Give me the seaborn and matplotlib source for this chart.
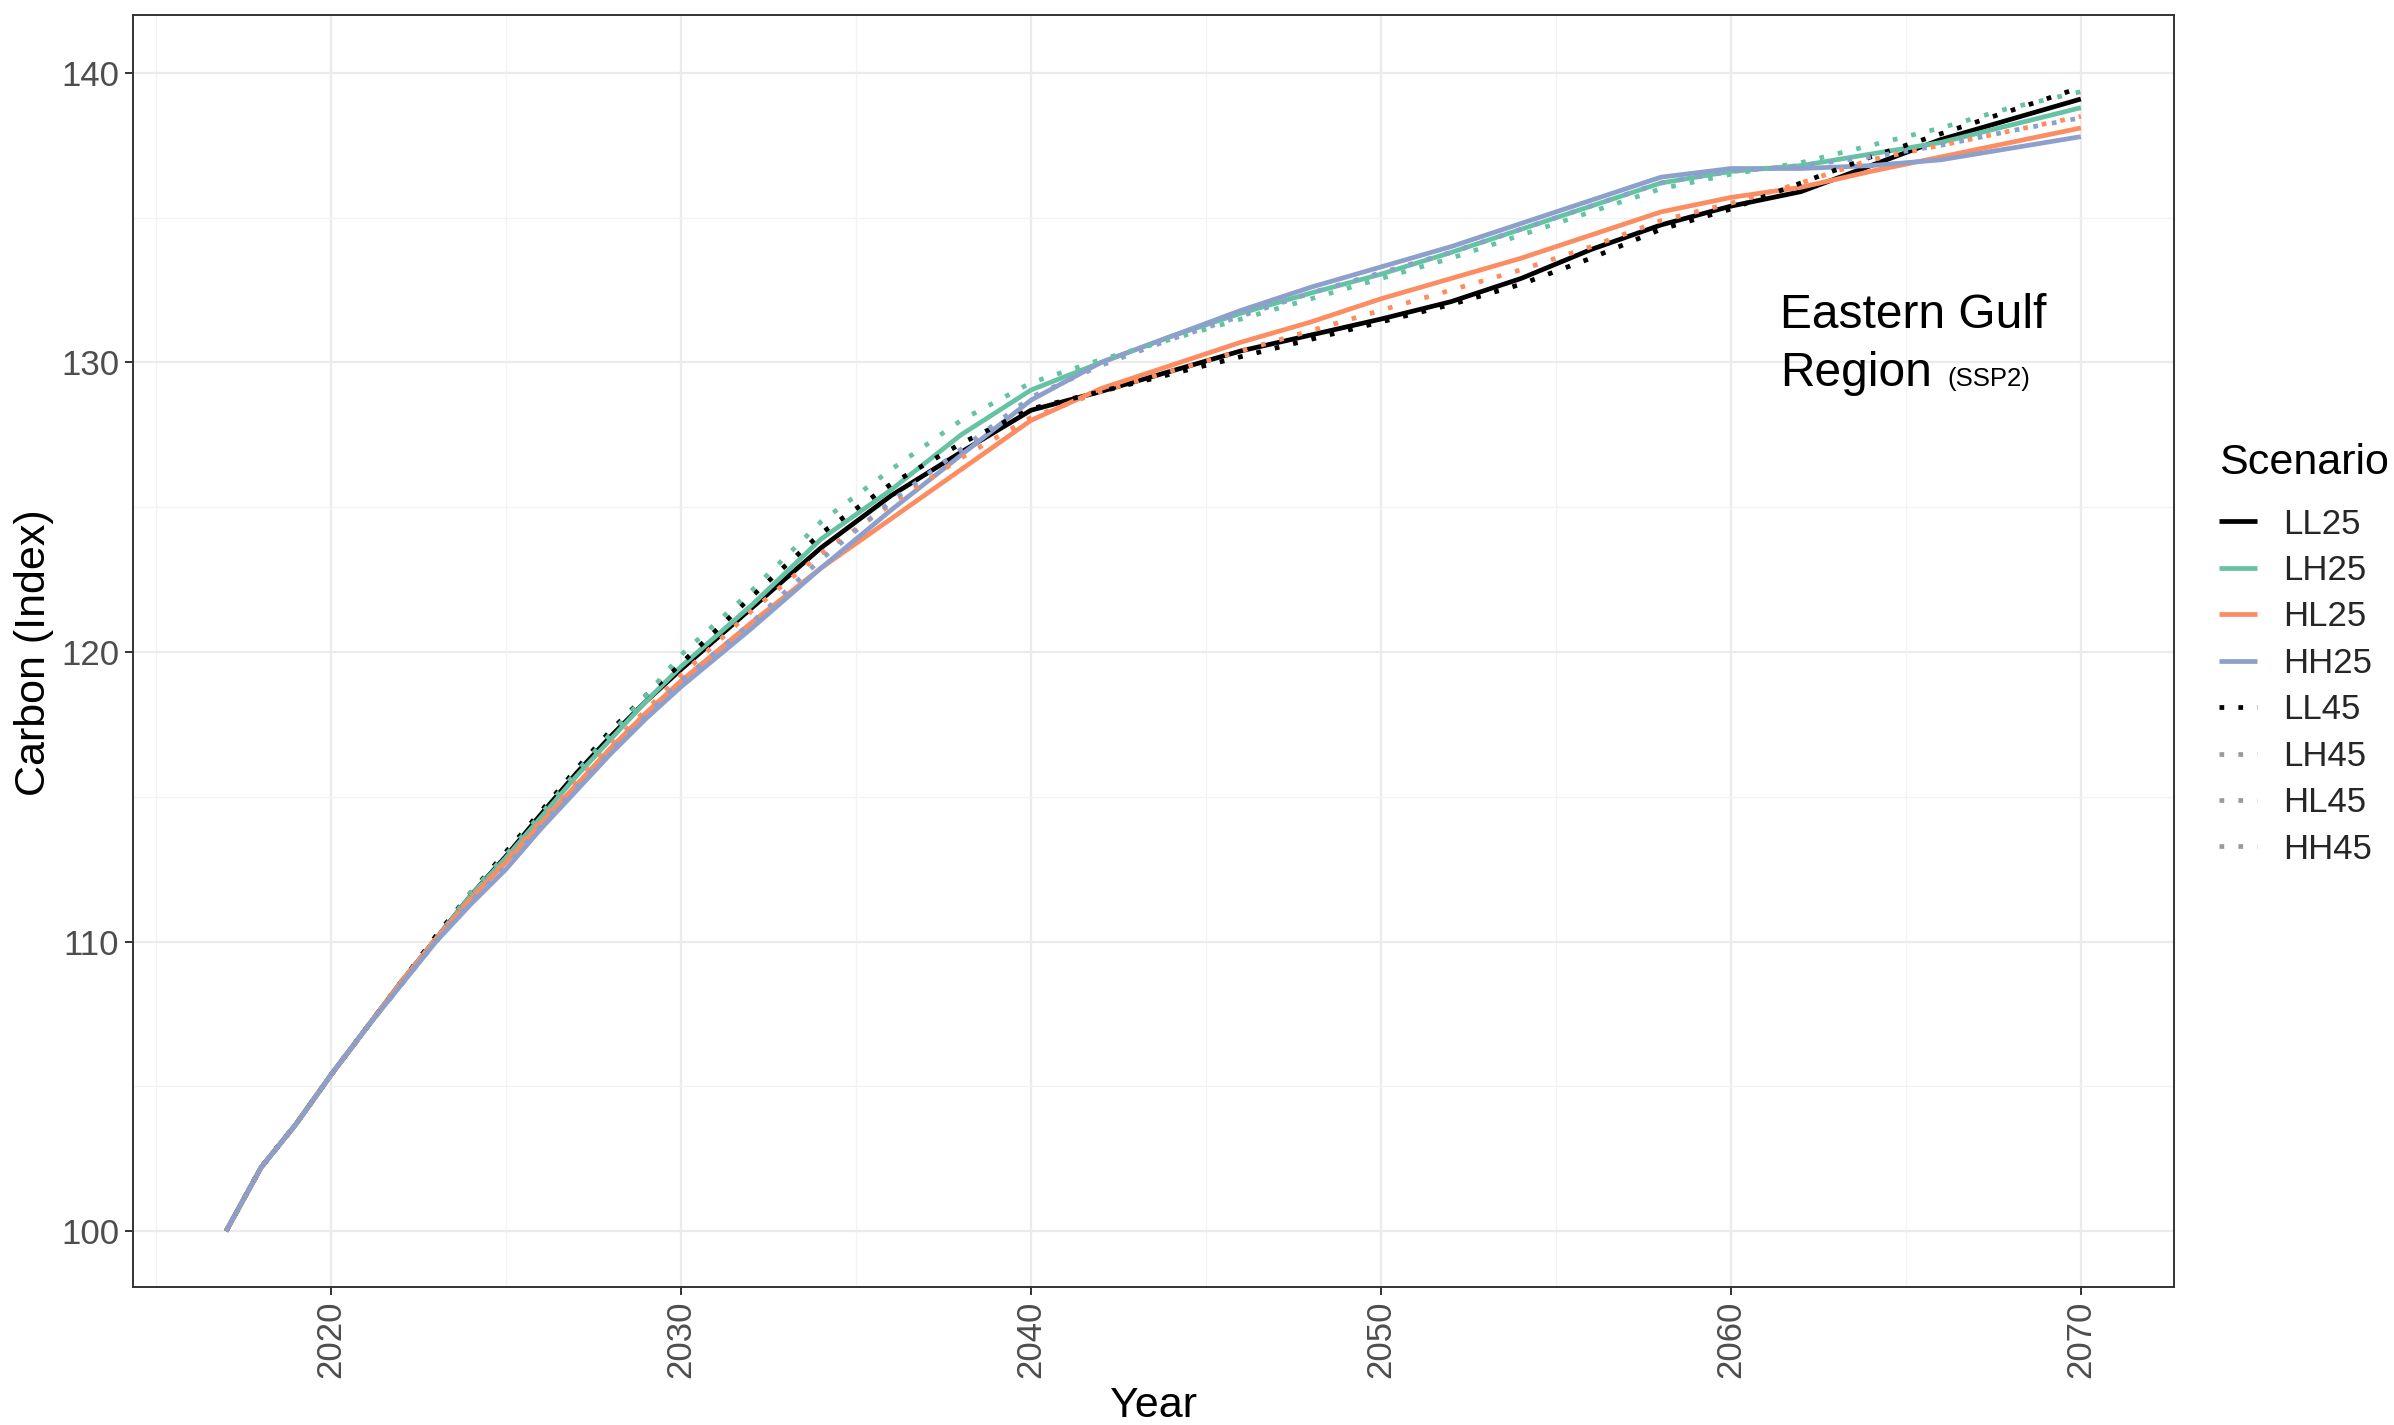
import matplotlib
matplotlib.use("Agg")
import matplotlib.pyplot as plt
from matplotlib.lines import Line2D
import seaborn as sns
import pandas as pd

# ---------------- data ----------------
years = [2017, 2018, 2019, 2020, 2021, 2022, 2023, 2024, 2025, 2026, 2027, 2028, 2029,
         2030, 2032, 2034, 2036, 2038, 2040, 2042, 2044, 2046, 2048, 2050, 2052, 2054,
         2056, 2058, 2060, 2062, 2064, 2066, 2068, 2070]

scenarios = ["LL25", "LH25", "HL25", "HH25", "LL45", "LH45", "HL45", "HH45"]

LL25 = [100, 102.2, 103.7, 105.4, 107.0, 108.6, 110.1, 111.6, 112.95, 114.4, 115.8, 117.1, 118.3,
        119.4, 121.5, 123.6, 125.4, 126.9, 128.35, 129.0, 129.7, 130.4, 130.95, 131.5, 132.1, 132.9,
        133.9, 134.75, 135.4, 135.9, 136.8, 137.7, 138.4, 139.1]
LH25 = [100, 102.2, 103.7, 105.4, 107.0, 108.6, 110.1, 111.6, 112.9, 114.3, 115.7, 117.0, 118.3,
        119.5, 121.6, 123.9, 125.6, 127.5, 129.05, 130.0, 130.9, 131.7, 132.4, 133.05, 133.8, 134.6,
        135.4, 136.2, 136.6, 136.8, 137.2, 137.6, 138.2, 138.8]
HL25 = [100, 102.2, 103.7, 105.4, 107.0, 108.6, 110.1, 111.5, 112.75, 114.1, 115.4, 116.7, 117.9,
        119.0, 121.0, 122.9, 124.6, 126.3, 128.0, 129.1, 129.9, 130.7, 131.4, 132.2, 132.9, 133.6,
        134.4, 135.2, 135.7, 136.05, 136.6, 137.1, 137.6, 138.1]
HH25 = [100, 102.2, 103.7, 105.4, 107.0, 108.5, 110.0, 111.3, 112.5, 113.9, 115.2, 116.5, 117.7,
        118.8, 120.8, 122.9, 124.9, 126.8, 128.7, 130.0, 130.9, 131.8, 132.6, 133.3, 134.0, 134.8,
        135.6, 136.4, 136.7, 136.7, 136.8, 137.0, 137.4, 137.8]
LL45 = [100, 102.2, 103.7, 105.4, 107.0, 108.6, 110.2, 111.7, 113.1, 114.5, 115.95, 117.3, 118.5,
        119.6, 121.9, 124.1, 125.8, 127.2, 128.4, 129.0, 129.6, 130.2, 130.8, 131.4, 132.0, 132.7,
        133.6, 134.6, 135.3, 136.2, 137.1, 137.9, 138.7, 139.5]
LH45 = [100, 102.2, 103.7, 105.4, 107.0, 108.6, 110.1, 111.7, 113.0, 114.4, 115.85, 117.2, 118.5,
        119.9, 122.1, 124.5, 126.3, 128.0, 129.3, 130.1, 130.8, 131.5, 132.2, 132.9, 133.6, 134.4,
        135.2, 136.0, 136.5, 136.9, 137.5, 138.1, 138.8, 139.35]
HL45 = [100, 102.2, 103.7, 105.4, 107.0, 108.6, 110.1, 111.5, 112.8, 114.2, 115.5, 116.8, 118.0,
        119.2, 121.4, 123.4, 125.1, 126.7, 128.1, 129.0, 129.7, 130.4, 131.1, 131.8, 132.5, 133.2,
        134.0, 134.9, 135.5, 136.2, 137.0, 137.5, 138.0, 138.5]
HH45 = [100, 102.2, 103.7, 105.4, 107.0, 108.5, 110.0, 111.4, 112.6, 114.0, 115.3, 116.6, 117.8,
        119.0, 121.0, 123.2, 125.2, 127.0, 128.8, 129.9, 130.8, 131.6, 132.4, 133.1, 133.8, 134.6,
        135.4, 136.2, 136.6, 136.8, 137.1, 137.5, 138.0, 138.45]

series = {"LL25": LL25, "LH25": LH25, "HL25": HL25, "HH25": HH25,
          "LL45": LL45, "LH45": LH45, "HL45": HL45, "HH45": HH45}

colors = {"LL25": "#000000", "LH25": "#66C2A5", "HL25": "#FC8D62", "HH25": "#8DA0CB",
          "LL45": "#000000", "LH45": "#66C2A5", "HL45": "#FC8D62", "HH45": "#8DA0CB"}
legend_colors = {"LL25": "#000000", "LH25": "#66C2A5", "HL25": "#FC8D62", "HH25": "#8DA0CB",
                 "LL45": "#000000", "LH45": "#9a9a9a", "HL45": "#9a9a9a", "HH45": "#9a9a9a"}

rows = []
for s in scenarios:
    for y, v in zip(years, series[s]):
        rows.append({"Year": y, "Carbon": v, "Scenario": s})
df = pd.DataFrame(rows)

# ---------------- plot ----------------
sns.set_theme(style="white")
plt.rcParams["font.family"] = ["Liberation Sans", "DejaVu Sans"]

fig = plt.figure(figsize=(23.94, 14.25), dpi=100)
ax = fig.add_axes([0.05556, 0.09684, 0.8525, 0.8926])

dash_map = {s: ("" if s.endswith("25") else (1, 3)) for s in scenarios}
sns.lineplot(data=df, x="Year", y="Carbon", hue="Scenario", style="Scenario",
             hue_order=scenarios, style_order=scenarios, palette=colors,
             dashes=dash_map, linewidth=3.4, legend=False, ax=ax, zorder=3)
for ln in ax.get_lines():
    ln.set_dash_capstyle("butt")
    ln.set_solid_capstyle("butt")

ax.set_xlim(2014.34, 2072.66)
ax.set_ylim(98.07, 142.0)
ax.set_xticks([2020, 2030, 2040, 2050, 2060, 2070])
ax.set_xticks([2015, 2025, 2035, 2045, 2055, 2065], minor=True)
ax.set_yticks([100, 110, 120, 130, 140])
ax.set_yticks([105, 115, 125, 135], minor=True)

ax.grid(True, which="major", color="#EBEBEB", linewidth=1.6, zorder=0)
ax.grid(True, which="minor", color="#F2F2F2", linewidth=0.9, zorder=0)
ax.set_axisbelow(True)

for sp in ax.spines.values():
    sp.set_color("#333333")
    sp.set_linewidth(1.4)

ax.tick_params(axis="both", which="major", length=6, width=1.4, color="#333333",
               labelsize=25, labelcolor="#4D4D4D", pad=4, left=True, bottom=True)
ax.tick_params(axis="both", which="minor", length=0)
plt.setp(ax.get_xticklabels(), rotation=90, va="top", ha="center")

ax.set_xlabel("Year", fontsize=31, color="black")
ax.set_ylabel("Carbon (Index)", fontsize=31, color="black")
ax.xaxis.set_label_coords(0.4998, -0.0935)
ax.xaxis.label.set_va("center")
ax.yaxis.set_label_coords(-0.0485, 0.499)
ax.yaxis.label.set_va("center")

# annotation
ax.text(2061.4, 131.2, "Eastern Gulf", fontsize=34.5, color="black", va="baseline", ha="left")
ax.text(2061.4, 129.2, "Region", fontsize=34.5, color="black", va="baseline", ha="left")
ax.text(2066.2, 129.2, "(SSP2)", fontsize=18.5, color="black", va="baseline", ha="left")

# legend
fig.text(0.9269, 0.6754, "Scenario", fontsize=31, color="black", ha="left", va="center")
handles = []
for s in scenarios:
    if s.endswith("25"):
        h = Line2D([0], [0], color=legend_colors[s], linewidth=3.4, solid_capstyle="butt")
    else:
        h = Line2D([0], [0], color=legend_colors[s], linewidth=3.4, linestyle=(0, (1, 3)),
                   dash_capstyle="butt")
    handles.append(h)
leg = fig.legend(handles, scenarios, loc="upper left",
                 bbox_to_anchor=(0.9195, 0.656), frameon=False, fontsize=25,
                 handlelength=1.1, handletextpad=0.75,
                 labelspacing=0.387, borderpad=0)

fig.savefig("out.png", dpi=100)
